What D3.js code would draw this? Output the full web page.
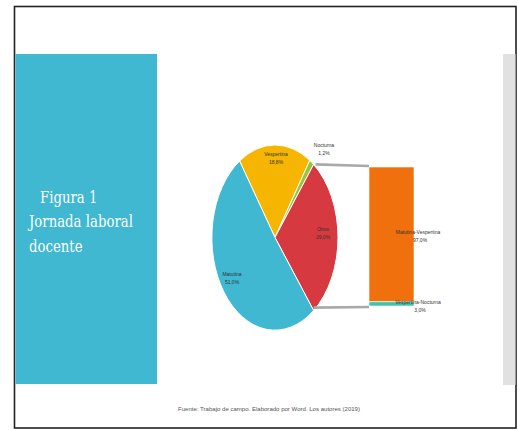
<!DOCTYPE html>
<html>
<head>
<meta charset="utf-8">
<script src="https://cdn.jsdelivr.net/npm/d3@7"></script>
<style>
  html, body { margin: 0; padding: 0; background: #fff; }
  svg { display: block; }
</style>
</head>
<body>
<svg id="chart" width="518" height="430"></svg>
<script>
// Pie slices (clockwise from the top-left), in percent
const sliceNames = ["Vespertina", "Nocturna", "Otros", "Matutina"];
const sliceValues = [18.8, 1.2, 29.0, 51.0];
const sliceColors = ["#f6b500", "#9cc43a", "#d63a40", "#40b8d1"];

// Breakdown of the "Otros" slice shown as a stacked bar, in percent
const barNames = ["Matutina-Vespertina", "Vespertina-Nocturna"];
const barValues = [97.0, 3.0];
const barColors = ["#ef700c", "#3ec5a9"];

const titleLines = ["Figura 1", "Jornada laboral", "docente"];
const sourceNote = "Fuente: Trabajo de campo. Elaborado por Word. Los autores (2019)";

const fmt = v => d3.format(".1f")(v).replace(".", ",") + "%";

const svg = d3.select("#chart");

// slide frame
svg.append("rect").attr("x", 14.5).attr("y", 6.5).attr("width", 501.5).attr("height", 421.5)
  .attr("fill", "#fff").attr("stroke", "#222").attr("stroke-width", 1.6);

// title panel
svg.append("rect").attr("x", 15.5).attr("y", 54).attr("width", 141.5).attr("height", 330)
  .attr("fill", "#40b8d1");

// title set in a narrowed serif: one horizontal squeeze shared by all lines
const titleX = [40, 29, 29];
const titleY = [203, 227, 252];
const titleWidest = 104;
const titleG = svg.append("g");
const titleTexts = titleLines.map((t, i) => titleG.append("text").attr("fill", "#fff")
  .attr("font-family", "'DejaVu Serif', 'Liberation Serif', serif")
  .attr("font-size", 16.5)
  .attr("y", titleY[i])
  .text(t));
const natural = d3.max(titleTexts, t => t.node().getComputedTextLength());
const sx = titleWidest / natural;
titleG.attr("transform", `scale(${sx},1)`);
titleTexts.forEach((t, i) => t.attr("x", titleX[i] / sx));

// grey strip on the right edge
svg.append("rect").attr("x", 503).attr("y", 54).attr("width", 12.5).attr("height", 331)
  .attr("fill", "#e1e1e1");

// ---- elliptical pie ----
const cx = 275, cy = 237.5, rx = 63, ry = 92.5;
const total = d3.sum(sliceValues);
const otherIdx = sliceNames.indexOf("Otros");
const before = d3.sum(sliceValues.slice(0, otherIdx));
// rotate so the "Otros" slice is centred on the right, facing the bar
const start = Math.PI / 2 - (before + sliceValues[otherIdx] / 2) / total * 2 * Math.PI;

const pie = d3.pie().sort(null).value(d => d)
  .startAngle(start).endAngle(start + 2 * Math.PI);
const arcs = pie(sliceValues);
const arc = d3.arc().innerRadius(0).outerRadius(1);

const pieG = svg.append("g").attr("transform", `translate(${cx},${cy}) scale(${rx},${ry})`);
pieG.selectAll("path").data(arcs).join("path")
  .attr("d", arc)
  .attr("fill", (d, i) => sliceColors[i])
  .attr("stroke", "#fff")
  .attr("stroke-width", 1)
  .attr("vector-effect", "non-scaling-stroke");

const onEllipse = a => [cx + rx * Math.sin(a), cy - ry * Math.cos(a)];

// ---- stacked bar ----
const barX = 369, barW = 45;
const y = d3.scaleLinear().domain([0, d3.sum(barValues)]).range([306, 167]);
let acc = d3.sum(barValues);
const barSegs = barValues.map((v, i) => {
  const top = acc; acc -= v;
  return { name: barNames[i], value: v, top, bottom: acc, color: barColors[i] };
});
svg.selectAll("rect.seg").data(barSegs).join("rect")
  .attr("class", "seg")
  .attr("x", barX).attr("width", barW)
  .attr("y", d => y(d.top))
  .attr("height", d => y(d.bottom) - y(d.top))
  .attr("fill", d => d.color)
  .attr("stroke", "#fff").attr("stroke-width", 0.6);

// connector lines from the "Otros" slice to the bar
const oArc = arcs[otherIdx];
const p0 = onEllipse(oArc.startAngle), p1 = onEllipse(oArc.endAngle);
svg.append("line").attr("x1", p0[0] + 2).attr("y1", p0[1]).attr("x2", barX).attr("y2", y(d3.sum(barValues)) - 1)
  .attr("stroke", "#a9a9a9").attr("stroke-width", 2.6);
svg.append("line").attr("x1", p1[0]).attr("y1", p1[1] - 3).attr("x2", barX).attr("y2", y(0) + 1)
  .attr("stroke", "#a9a9a9").attr("stroke-width", 2.6);

// ---- data labels ----
const labelStyle = sel => sel.attr("font-family", "'Liberation Sans', Arial, sans-serif")
  .attr("font-size", 5).attr("fill", "#333").attr("text-anchor", "middle");

const pieLabelPos = [[276, 156], [324, 147], [323, 231], [232, 276]];
const pieLabels = svg.append("g").call(labelStyle);
arcs.forEach((a, i) => {
  const t = pieLabels.append("text");
  t.append("tspan").attr("x", pieLabelPos[i][0]).attr("y", pieLabelPos[i][1]).text(sliceNames[i]);
  t.append("tspan").attr("x", pieLabelPos[i][0]).attr("y", pieLabelPos[i][1] + 8).text(fmt(sliceValues[i]));
});

const barLabels = svg.append("g").call(labelStyle);
barSegs.forEach((d, i) => {
  const ly = i === 0 ? (y(d.top) + y(d.bottom)) / 2 : y(d.top) + 2;
  const t = barLabels.append("text");
  t.append("tspan").attr("x", 418).attr("y", ly).text(d.name);
  t.append("tspan").attr("x", 420).attr("y", ly + 8).text(fmt(d.value));
});

// source note
svg.append("text").attr("x", 269).attr("y", 411)
  .attr("text-anchor", "middle")
  .attr("font-family", "'Liberation Sans', Arial, sans-serif")
  .attr("font-size", 5).attr("fill", "#555")
  .attr("textLength", 182).attr("lengthAdjust", "spacingAndGlyphs")
  .text(sourceNote);
</script>
</body>
</html>
